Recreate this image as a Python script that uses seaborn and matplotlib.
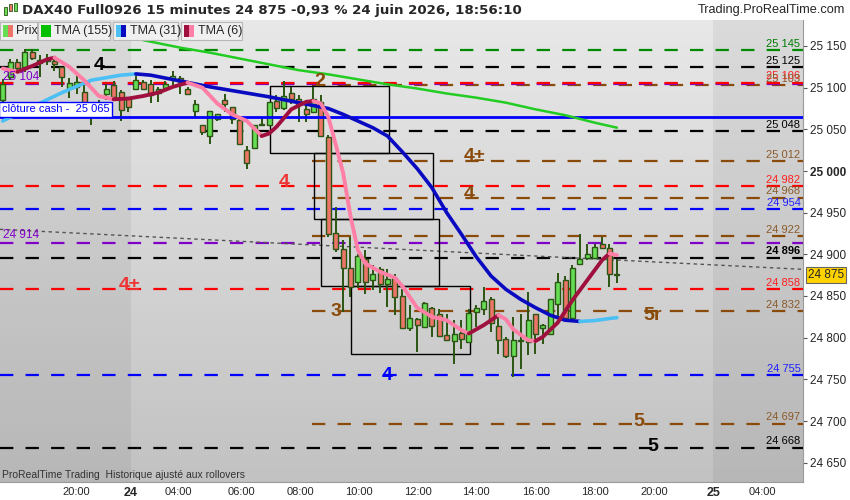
import numpy as np
import pandas as pd
import matplotlib
matplotlib.use("Agg")
import matplotlib.pyplot as plt
import matplotlib.transforms as mtrans
from matplotlib.patches import Rectangle
import seaborn as sns

# ---------------- data ----------------
bars = list(range(-72, 12))
opens = [25085, 25113, 25131, 25125, 25143, 25133, 25134, 25132, 25125, 25100,
         25101, 25095, 25078, 25072, 25093, 25103, 25095, 25087, 25099, 25107,
         25104, 25094, 25100, 25110, 25112, 25098, 25072, 25055, 25042, 25063,
         25085, 25077, 25061, 25025, 25028, 25055, 25055, 25084, 25076, 25093,
         25087, 25075, 25071, 25083, 25041, 24926, 24906, 24883, 24867, 24894,
         24869, 24883, 24864, 24871, 24850, 24812, 24822, 24813, 24836, 24829,
         24803, 24796, 24805, 24795, 24831, 24834, 24846, 24814, 24798, 24778,
         24796, 24795, 24828, 24812, 24805, 24840, 24869, 24824, 24888, 24896,
         24896, 24913, 24907, 24876]
highs = [25111, 25135, 25134, 25146, 25146, 25139, 25141, 25138, 25125, 25112,
         25118, 25103, 25083, 25085, 25105, 25108, 25097, 25089, 25115, 25109,
         25109, 25101, 25108, 25120, 25114, 25101, 25085, 25055, 25072, 25068,
         25093, 25077, 25063, 25030, 25055, 25065, 25083, 25091, 25108, 25101,
         25091, 25079, 25101, 25091, 25043, 24957, 24917, 24921, 24901, 24905,
         24887, 24885, 24883, 24877, 24858, 24839, 24824, 24843, 24837, 24834,
         24828, 24821, 24821, 24835, 24839, 24861, 24849, 24827, 24801, 24825,
         24829, 24855, 24828, 24817, 24846, 24878, 24874, 24887, 24925, 24913,
         24913, 24921, 24913, 24894]
lows = [25081, 25109, 25118, 25119, 25133, 25113, 25127, 25120, 25101, 25088,
        25092, 25078, 25055, 25068, 25085, 25085, 25060, 25071, 25097, 25097,
        25082, 25083, 25098, 25103, 25093, 25091, 25065, 25043, 25033, 25060,
        25071, 25057, 25033, 25003, 25028, 25054, 25055, 25071, 25073, 25081,
        25059, 25059, 25071, 25041, 24921, 24903, 24831, 24849, 24860, 24853,
        24857, 24854, 24837, 24827, 24811, 24808, 24783, 24812, 24801, 24801,
        24797, 24769, 24787, 24795, 24813, 24827, 24807, 24781, 24776, 24753,
        24763, 24779, 24781, 24793, 24805, 24824, 24820, 24820, 24887, 24893,
        24895, 24907, 24861, 24866]
closes = [25105, 25131, 25124, 25143, 25136, 25130, 25132, 25128, 25113, 25106,
          25107, 25081, 25072, 25080, 25099, 25089, 25073, 25077, 25109, 25099,
          25091, 25098, 25104, 25114, 25107, 25092, 25080, 25047, 25072, 25068,
          25081, 25063, 25033, 25010, 25055, 25057, 25083, 25076, 25090, 25086,
          25081, 25069, 25086, 25042, 24924, 24906, 24884, 24861, 24898, 24867,
          24877, 24865, 24870, 24849, 24812, 24824, 24815, 24841, 24814, 24802,
          24797, 24804, 24798, 24830, 24836, 24844, 24818, 24797, 24778, 24797,
          24797, 24821, 24805, 24815, 24846, 24867, 24824, 24884, 24894, 24901,
          24909, 24908, 24876, 24875]

tma155_x = [-53, -48, -44, -40, -36, -32, -28, -24, -20, -16, -12, -8, -4, 0, 4, 8, 11]
tma155_v = [25157, 25148, 25142, 25135, 25128, 25121, 25116, 25110, 25104, 25099,
            25093, 25088, 25082, 25074, 25067, 25058, 25052]

tma31_x = [-72, -68, -64, -60, -56, -54, -52, -48, -44, -40, -36, -32, -28, -26, -24,
           -22, -20, -18, -16, -14, -12, -10, -8, -6, -4, -2, 0, 2, 4, 6, 8, 10, 11]
tma31_v = [25060, 25077, 25094, 25109, 25115, 25116.5, 25115, 25108, 25101, 25095,
           25089, 25082, 25075, 25068, 25060, 25052, 25042, 25023, 25003, 24980,
           24950, 24924, 24897, 24874, 24858, 24846, 24836, 24827, 24821, 24819.5,
           24820.5, 24823, 24824]

tma6_x = [-72, -70, -68, -66, -65, -63, -61, -59, -57, -55, -53, -51, -49, -47, -45,
          -43, -41, -39, -37, -36, -35, -33, -31, -30, -29, -28, -27, -26, -25, -24,
          -23, -21, -19, -18, -16, -14, -12, -10, -9, -7, -5, -4, -3, -1, 0, 1, 3,
          5, 7, 9, 10, 11]
tma6_v = [25123, 25119, 25126, 25134, 25136, 25125, 25109, 25090, 25086, 25087,
          25090, 25094, 25101, 25106, 25100, 25081, 25068, 25060, 25042, 25045,
          25053, 25074, 25083, 25084, 25081, 25065, 25032, 24998, 24946, 24905,
          24889, 24879, 24872, 24862, 24836, 24825, 24821, 24809, 24805, 24815,
          24827, 24822, 24810, 24797, 24796, 24801, 24818, 24845, 24869, 24893,
          24901, 24899]

level_values = [25145, 25125, 25106, 25104, 25103, 25048, 25012, 24982, 24968, 24954,
                24922, 24914, 24896, 24858, 24832, 24755, 24697, 24668]
level_kinds = ["green", "black", "red", "purple", "brown", "black", "brown", "red",
               "brown", "blue", "brown", "purple", "black", "red", "brown", "blue",
               "brown", "black"]
level_labels = ["25 145", "25 125", "25 106", None, "25 103", "25 048", "25 012", "24 982",
                "24 968", "24 954", "24 922", None, "24 896", "24 858", "24 832", "24 755",
                "24 697", "24 668"]
cash_close = 25065

rect_left = [-35.9, -29.9, -29.0, -24.9]
rect_right = [-19.8, -13.9, -13.0, -8.9]
rect_low = [25022, 24942, 24862, 24781]
rect_high = [25102, 25022, 24942, 24862]

annot_text = ["4", "2", "4±", "4", "4", "4±", "3", "5r", "4", "5", "5"]
annot_x = [-58.9, -29.1, -8.2, -8.9, -34.0, -54.8, -27.0, 15.8, -20.1, 13.9, 15.8]
annot_v = [25127, 25108, 25017, 24972, 24986, 24863, 24832, 24827, 24754, 24700, 24669]
annot_kind = ["black", "brown", "brown", "brown", "red", "red", "brown", "brown", "blue",
              "brown", "black"]

trend_x = [-72.36, 36.15]
trend_v = [24930, 24882]

tick_pos = [-62, -54.7, -48.3, -39.8, -31.8, -23.9, -15.9, -8, 0, 8, 16.1, 24, 30.7]
tick_labels = ["20:00", "24", "04:00", "06:00", "08:00", "10:00", "12:00", "14:00",
               "16:00", "18:00", "20:00", "25", "04:00"]
price_ticks = [24650, 24700, 24750, 24800, 24850, 24900, 24950, 25000, 25050, 25100, 25150]
last_price = 24875

# ---------------- style ----------------
sns.set_style("white")
plt.rcParams["font.family"] = ["Liberation Sans", "DejaVu Sans"]

COL = {"green": "#008a00", "black": "#000000", "red": "#ff0000", "purple": "#8000c8",
       "brown": "#8a4a0a", "blue": "#0000ff"}
LABCOL = {"green": "#007a00", "black": "#000000", "red": "#ff2020", "purple": "#8000c8",
          "brown": "#8a5a2a", "blue": "#2020ff"}
BROWN_START = -30.2

W, H = 850, 500
fig = plt.figure(figsize=(8.5, 5), dpi=100)
fig.patch.set_facecolor("white")
ax = fig.add_axes([0, 18 / H, 803 / W, 462 / H])
XMIN, XMAX = -72.36, 36.15
YMIN, YMAX = 24626.8, 25181.2
ax.set_xlim(XMIN, XMAX)
ax.set_ylim(YMIN, YMAX)

# background gradient
grad = np.linspace(0, 1, 256)[:, None]
c_top = np.array([0.91, 0.91, 0.91])
c_bot = np.array([0.76, 0.76, 0.76])
img = c_top[None, None, :] * (1 - grad[:, :, None]) + c_bot[None, None, :] * grad[:, :, None]
ax.imshow(img, extent=[0, 1, 0, 1], transform=ax.transAxes, aspect="auto", zorder=0)
ax.axvspan(XMIN, tick_pos[1], color="black", alpha=0.055, lw=0, zorder=0.1)
ax.axvspan(tick_pos[11], XMAX, color="black", alpha=0.055, lw=0, zorder=0.1)

# level lines
for v, k in zip(level_values, level_kinds):
    x0 = BROWN_START if k == "brown" else XMIN
    z = 1.2 if k == "red" else (1.15 if k == "purple" else 1.1)
    ax.plot([x0, XMAX], [v, v], color=COL[k], lw=1.6, dashes=(6, 5.5), zorder=z,
            solid_capstyle="butt", dash_capstyle="butt")
for v, k, lab in zip(level_values, level_kinds, level_labels):
    if lab is None:
        continue
    fw = "bold" if lab == "24 896" else "normal"
    ax.text(35.8, v + 1.5, lab, color=LABCOL[k], fontsize=8, ha="right", va="bottom",
            fontweight=fw, zorder=6)
ax.text(-72.0, 25104 + 1.5, "25 104", color=LABCOL["purple"], fontsize=8.5, va="bottom",
        ha="left", zorder=6)
ax.text(-72.0, 24914 + 1.5, "24 914", color=LABCOL["purple"], fontsize=8.5, va="bottom",
        ha="left", zorder=6)

# trendline
ax.plot(trend_x, trend_v, color="#555555", lw=1.0, dashes=(2.5, 2.5), zorder=1.3)

# rectangles
for l, r, lo, hi in zip(rect_left, rect_right, rect_low, rect_high):
    ax.add_patch(Rectangle((l, lo), r - l, hi - lo, fill=False, ec="black", lw=1.0, zorder=2))

# candles
df = pd.DataFrame({"i": bars, "o": opens, "h": highs, "l": lows, "c": closes})
up = df["c"] >= df["o"]
ax.vlines(df["i"], df["l"], df["h"], color="#2b5512", lw=1.4, zorder=3)
body_lo = np.minimum(df["o"], df["c"])
body_h = np.maximum(np.abs(df["c"] - df["o"]), 1.2)
ax.bar(df["i"][up], body_h[up], bottom=body_lo[up], width=0.66, color="#66dd55",
       edgecolor="#2b5512", lw=1.0, zorder=3.1)
ax.bar(df["i"][~up], body_h[~up], bottom=body_lo[~up], width=0.66, color="#ec7468",
       edgecolor="#2b5512", lw=1.0, zorder=3.1)

# cash close line
ax.axhline(cash_close, color="#0000ff", lw=2.0, zorder=3.5)
ax.text(-72.1, cash_close + 3.0, "clôture cash -  25 065", color="#0000ff", fontsize=8,
        va="bottom", ha="left", zorder=6,
        bbox=dict(boxstyle="square,pad=0.25", fc="white", ec="#0000ff", lw=1.0))


def draw_ma(xs, vs, up_col, down_col, lw, z):
    d = pd.DataFrame({"i": xs, "v": vs})
    s = np.sign(np.diff(vs))
    start = 0
    for k in range(1, len(s) + 1):
        if k == len(s) or s[k] != s[k - 1]:
            seg = d.iloc[start:k + 1]
            col = up_col if s[k - 1] > 0 else down_col
            sns.lineplot(data=seg, x="i", y="v", color=col, lw=lw, sort=False,
                         estimator=None, ax=ax, zorder=z, solid_capstyle="round")
            start = k


sns.lineplot(data=pd.DataFrame({"i": tma155_x, "v": tma155_v}), x="i", y="v",
             color="#22cc22", lw=1.8, ax=ax, zorder=4, estimator=None)
draw_ma(tma31_x, tma31_v, "#4cc0f5", "#0a0ac0", 2.6, 4.1)
draw_ma(tma6_x, tma6_v, "#a0103e", "#ff7fa6", 2.8, 4.2)

# annotations
for t, x, v, k in zip(annot_text, annot_x, annot_v, annot_kind):
    ax.text(x, v, t, color=COL[k] if k != "red" else "#ee3333", fontsize=14,
            fontweight="bold", ha="center", va="center", zorder=6)

ax.text(0.003, 0.004, "ProRealTime Trading  Historique ajusté aux rollovers",
        transform=ax.transAxes, fontsize=7.5, color="#333333", va="bottom", ha="left", zorder=6)

# axes
ax.set_xlabel("")
ax.set_ylabel("")
ax.yaxis.tick_right()
ax.set_yticks(price_ticks)
ax.set_yticklabels([f"{p:,}".replace(",", " ") for p in price_ticks])
ax.tick_params(axis="y", length=3, pad=2, labelsize=8.5, color="#555555")
for lab, p in zip(ax.get_yticklabels(), price_ticks):
    if p == 25000:
        lab.set_fontweight("bold")
ax.set_xticks(tick_pos)
ax.set_xticklabels(tick_labels)
ax.tick_params(axis="x", length=2, pad=1.5, labelsize=8, color="#555555")
for lab in ax.get_xticklabels():
    if lab.get_text() in ("24", "25"):
        lab.set_fontweight("bold")
        lab.set_fontsize(9)
for sp in ["top", "left"]:
    ax.spines[sp].set_visible(False)
for sp in ["right", "bottom"]:
    ax.spines[sp].set_color("#9a9a9a")
    ax.spines[sp].set_linewidth(0.8)

# last price box
tr = mtrans.blended_transform_factory(ax.transAxes, ax.transData)
ax.text(1.006, last_price, "24 875", transform=tr, fontsize=8.5, va="center", ha="left",
        zorder=7, clip_on=False,
        bbox=dict(boxstyle="square,pad=0.18", fc="#ffd200", ec="#666666", lw=0.8))


# ---------------- header: title + legend ----------------
def px_rect(x, y, w, h, **kw):
    fig.add_artist(Rectangle((x / W, 1 - (y + h) / H), w / W, h / H,
                             transform=fig.transFigure, **kw))


px_rect(0, 0, W, 20, fc="white", ec="none", zorder=10)
px_rect(4, 7, 3, 8, fc="#66dd55", ec="#2b5512", lw=0.6, zorder=11)
px_rect(9, 4, 3, 7, fc="#ec7468", ec="#2b5512", lw=0.6, zorder=11)
px_rect(14, 3, 3, 8, fc="#66dd55", ec="#2b5512", lw=0.6, zorder=11)
fig.text(22 / W, 1 - 10.5 / H, "DAX40 Full0926 15 minutes 24 875 -0,93 % 24 juin 2026, 18:56:10",
         fontsize=9.6, fontweight="bold", va="center", ha="left", zorder=11,
         family=["DejaVu Sans"])
fig.text(845 / W, 1 - 10.5 / H, "Trading.ProRealTime.com", fontsize=9.2, va="center",
         ha="right", zorder=11)

boxes = [(0, 37), (38, 72), (113, 65), (181, 61)]
for bx, bw in boxes:
    px_rect(bx, 22, bw, 18, fc="#f0f0f0", ec="#b8b8b8", lw=0.8, zorder=10)
icons = [("#66dd55", "#ec7468"), ("#00c000", "#00c000"), ("#4cc0f5", "#0a0ac0"),
         ("#a0103e", "#ff7fa6")]
icon_x = [3, 41, 116, 184]
for (c1, c2), ix in zip(icons, icon_x):
    px_rect(ix, 25, 5, 12, fc=c1, ec="none", zorder=11)
    px_rect(ix + 5, 25, 5, 12, fc=c2, ec="none", zorder=11)
for txt, tx in zip(["Prix", "TMA (155)", "TMA (31)", "TMA (6)"], [16, 54, 130, 198]):
    fig.text(tx / W, 1 - 31 / H, txt, fontsize=9, va="center", ha="left", zorder=11)

fig.savefig("out.png", dpi=100)
